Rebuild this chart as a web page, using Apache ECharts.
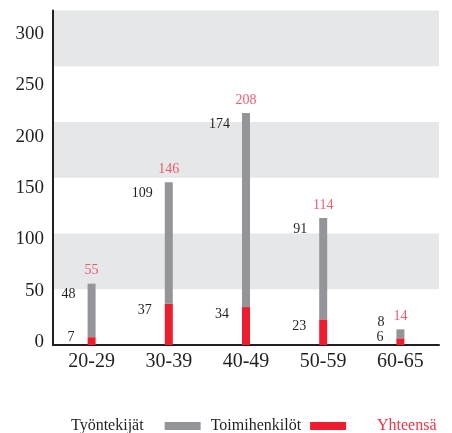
<!DOCTYPE html>
<html>
<head>
<meta charset="utf-8">
<script src="https://cdn.jsdelivr.net/npm/echarts@6/dist/echarts.min.js"></script>
<style>
  html, body { margin: 0; padding: 0; background: #fff; }
  #main { width: 452px; height: 433px; }
</style>
</head>
<body>
<div id="main"></div>
<script>
var categories = ['20-29', '30-39', '40-49', '50-59', '60-65'];
var redValues = [7, 37, 34, 23, 6];
var grayValues = [48, 109, 174, 91, 8];
var totals = [55, 146, 208, 114, 14];
var yTickLabels = [0, 50, 100, 150, 200, 250, 300];

var FONT = 'Liberation Serif';
var DARK = '#231f20';
var GRAY = '#939598';
var RED = '#ed1c2e';
var RED_TEXT = '#ee3447';

var myChart = echarts.init(document.getElementById('main'));

// label for the red part: a bit under the top of the segment, but kept inside short ones
function redLabelY(top, bottom) {
  return Math.min(top + 7, bottom - 8);
}

var option = {
  animation: false,
  textStyle: { fontFamily: FONT },
  grid: { left: 53, right: 13, top: 10.5, bottom: 88 },
  legend: [
    {
      left: 66,
      top: 413,
      align: 'right',
      itemWidth: 36,
      itemHeight: 8,
      itemGap: 10,
      textStyle: { fontFamily: FONT, fontSize: 16, color: DARK, padding: [0, 16, 0, 0] },
      data: [
        { name: 'Työntekijät', icon: 'rect' },
        { name: 'Toimihenkilöt', icon: 'rect', textStyle: { padding: [0, 4, 0, 0] } }
      ]
    },
    {
      left: 372,
      top: 413,
      align: 'right',
      itemWidth: 0,
      textStyle: { fontFamily: FONT, fontSize: 16, color: RED_TEXT },
      data: [{ name: 'Yhteensä', icon: 'none' }]
    }
  ],
  xAxis: {
    type: 'category',
    data: categories,
    axisLine: { lineStyle: { color: DARK, width: 2 } },
    axisTick: { show: false },
    axisLabel: { fontFamily: FONT, fontSize: 20, color: DARK, margin: 7 }
  },
  yAxis: [
    {
      type: 'value',
      min: 0,
      max: 300,
      interval: 50,
      axisLine: { show: true, lineStyle: { color: DARK, width: 2 } },
      axisTick: { show: false },
      axisLabel: { show: false },
      splitLine: { show: false },
      splitArea: { show: true, areaStyle: { color: ['rgba(255,255,255,0)', '#e6e7e8'] } }
    },
    {
      // label-only axis, the original's labels sit on their own slightly tighter scale
      type: 'value',
      position: 'left',
      min: -2.9,
      max: 322.8,
      axisLine: { show: false },
      axisTick: { show: false },
      splitLine: { show: false },
      axisLabel: {
        customValues: yTickLabels,
        fontFamily: FONT, fontSize: 19, color: DARK, margin: 9
      }
    }
  ],
  series: [
    {
      name: 'Toimihenkilöt',
      type: 'bar',
      stack: 'a',
      barWidth: 8,
      itemStyle: { color: RED },
      label: {
        show: true, position: 'left',
        fontFamily: FONT, fontSize: 14, color: DARK
      },
      labelLayout: function (p) {
        return {
          x: p.rect.x - 13,
          y: redLabelY(p.rect.y, p.rect.y + p.rect.height),
          align: 'right',
          verticalAlign: 'middle'
        };
      },
      data: redValues
    },
    {
      name: 'Työntekijät',
      type: 'bar',
      stack: 'a',
      barWidth: 8,
      itemStyle: { color: GRAY },
      label: {
        show: true, position: 'left',
        fontFamily: FONT, fontSize: 14, color: DARK
      },
      labelLayout: function (p) {
        var i = p.dataIndex;
        var redTop = p.rect.y + p.rect.height;
        var redBottom = redTop + p.rect.height * redValues[i] / grayValues[i];
        return {
          x: p.rect.x - 12,
          y: Math.min(p.rect.y + 11, redLabelY(redTop, redBottom) - 15),
          align: 'right',
          verticalAlign: 'middle'
        };
      },
      data: grayValues
    },
    {
      name: 'Yhteensä',
      type: 'scatter',
      symbolSize: 0,
      itemStyle: { color: RED_TEXT },
      label: {
        show: true, position: 'top', distance: 6,
        fontFamily: FONT, fontSize: 14, color: RED_TEXT
      },
      data: totals
    }
  ]
};
myChart.setOption(option);
</script>
</body>
</html>
